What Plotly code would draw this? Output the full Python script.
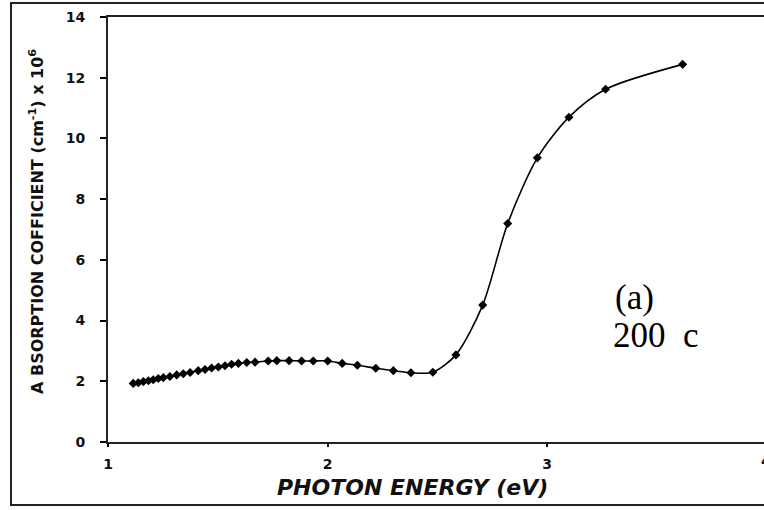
import plotly.graph_objects as go

# Photon energy (eV) and absorption coefficient (x10^6 cm^-1), film annealed at 200 C
photon_energy = [
    1.115, 1.138, 1.161, 1.184, 1.206, 1.229, 1.252, 1.282, 1.313, 1.343,
    1.374, 1.411, 1.442, 1.472, 1.503, 1.533, 1.563, 1.594, 1.632, 1.670,
    1.730, 1.769, 1.825, 1.882, 1.935, 2.001, 2.067, 2.136, 2.220, 2.300,
    2.380, 2.480, 2.585, 2.707, 2.821, 2.956, 3.100, 3.267, 3.618,
]
absorption = [
    1.93, 1.95, 1.99, 2.02, 2.05, 2.09, 2.12, 2.16, 2.21, 2.25,
    2.29, 2.35, 2.39, 2.44, 2.47, 2.51, 2.56, 2.59, 2.62, 2.63,
    2.67, 2.68, 2.68, 2.67, 2.67, 2.67, 2.59, 2.53, 2.43, 2.35,
    2.28, 2.30, 2.87, 4.51, 7.20, 9.36, 10.70, 11.62, 12.44,
]
y_ticks = [0, 2, 4, 6, 8, 10, 12, 14]
x_ticks = [1, 2, 3]

W, H = 764, 510
ML, MR, MT, MB = 108, 0, 17, 68
PW, PH = W - ML - MR, H - MT - MB

def px_x(p):
    return (p - ML) / PW

def px_y(p):
    return (H - MB - p) / PH

tick_font = dict(family="DejaVu Sans", size=14, color="#111111", weight="bold")

fig = go.Figure()
fig.add_trace(go.Scatter(
    x=photon_energy, y=absorption,
    mode="lines+markers",
    line=dict(color="black", width=1.6, shape="spline", smoothing=0.8),
    marker=dict(symbol="diamond", size=7, color="black"),
    showlegend=False,
    cliponaxis=False,
))

fig.update_layout(
    width=W, height=H,
    margin=dict(l=ML, r=MR, t=MT, b=MB),
    paper_bgcolor="white", plot_bgcolor="white",
    xaxis=dict(
        range=[1, 1 + PW / 219.5],
        tickvals=x_ticks, ticktext=[str(v) for v in x_ticks],
        ticks="outside", ticklen=3, tickwidth=1.5, tickcolor="black",
        showline=True, linecolor="#222222", linewidth=2, mirror=True,
        showgrid=False, zeroline=False,
        tickfont=tick_font, ticklabelstandoff=5,
    ),
    yaxis=dict(
        range=[0, 14],
        tickvals=y_ticks,
        ticks="outside", ticklen=6, tickwidth=1.5, tickcolor="black",
        showline=True, linecolor="#222222", linewidth=2,
        showgrid=False, zeroline=False,
        tickfont=tick_font, ticklabelstandoff=12,
    ),
    annotations=[
        dict(text="4", xref="paper", yref="paper", x=px_x(766), y=px_y(461),
             showarrow=False, font=tick_font, xanchor="center", yanchor="middle"),
        dict(text="<i>PHOTON ENERGY (eV)</i>", xref="paper", yref="paper",
             x=px_x(412), y=px_y(487), showarrow=False,
             font=dict(family="DejaVu Sans", size=22, color="#111111", weight="bold"),
             xanchor="center", yanchor="middle"),
        dict(text="A BSORPTION COFFICIENT (cm<sup>-1</sup>) x 10<sup>6</sup>",
             xref="paper", yref="paper", x=px_x(37), y=px_y(222),
             textangle=-90, showarrow=False,
             font=dict(family="DejaVu Sans", size=16, color="#111111", weight="bold"),
             xanchor="center", yanchor="middle"),
        dict(text="(a)", xref="paper", yref="paper", x=px_x(613), y=px_y(297),
             showarrow=False, xanchor="left", yanchor="middle",
             font=dict(family="Liberation Serif", size=35, color="black")),
        dict(text="200  c", xref="paper", yref="paper", x=px_x(611), y=px_y(335),
             showarrow=False, xanchor="left", yanchor="middle",
             font=dict(family="Liberation Serif", size=35, color="black")),
    ],
    shapes=[
        # outer frame around the whole figure
        dict(type="rect", xref="paper", yref="paper",
             x0=px_x(11), x1=px_x(800), y0=px_y(505), y1=px_y(3),
             line=dict(color="#222222", width=2), layer="above"),
    ],
)

fig.write_html("out.html")
